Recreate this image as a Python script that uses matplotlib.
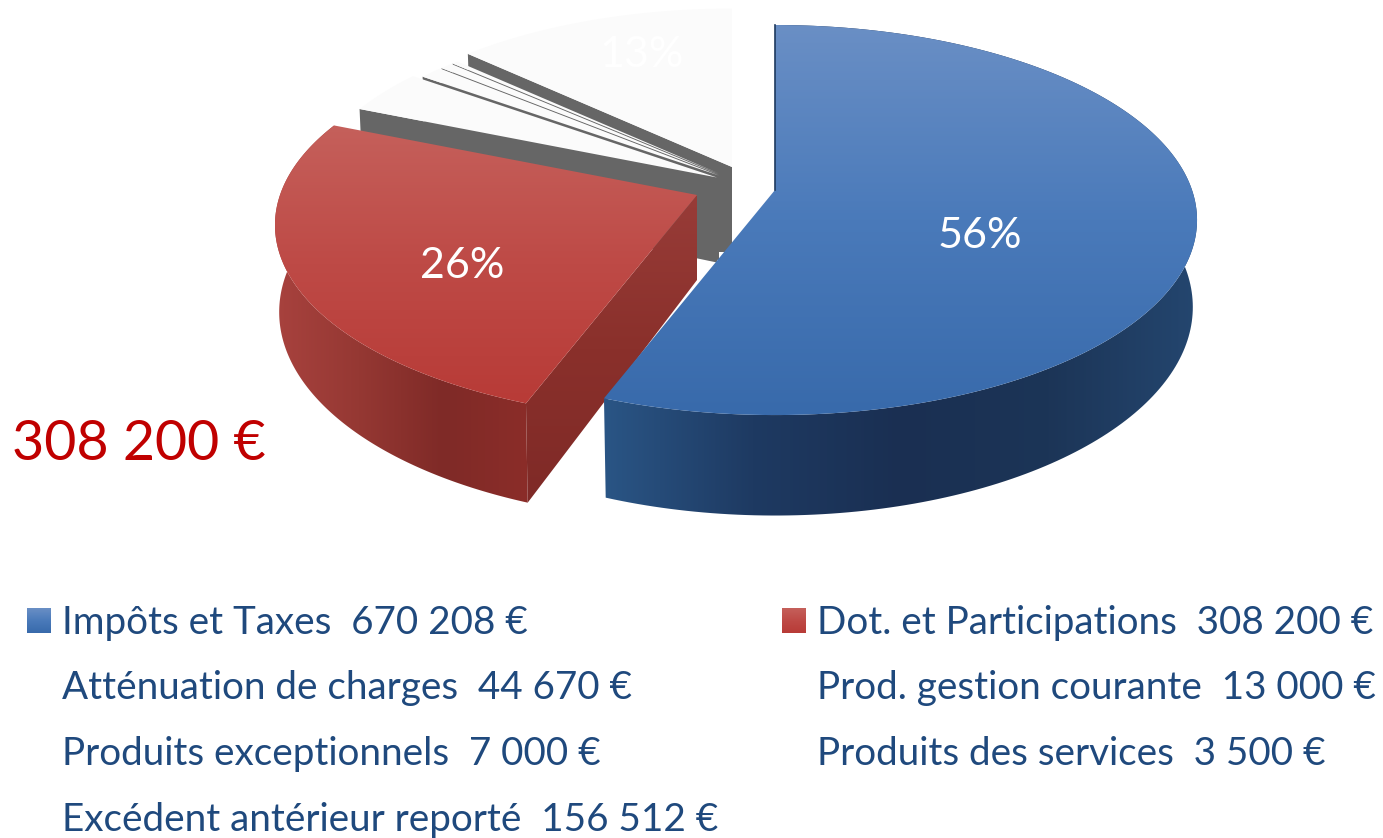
"""Recettes de fonctionnement: camembert 3D eclate avec legende."""
import matplotlib

matplotlib.use("Agg")
import matplotlib.pyplot as plt
import numpy as np
from matplotlib.colors import LinearSegmentedColormap
from matplotlib.patches import Polygon

NOMS = ["Impôts et Taxes", "Dot. et Participations", "Atténuation de charges",
        "Prod. gestion courante", "Produits exceptionnels",
        "Produits des services", "Excédent antérieur reporté"]
VALEURS = [670208, 308200, 44670, 13000, 7000, 3500, 156512]
POURCENTS = ["56%", "26%", None, None, None, None, "13%"]

W, H = 1383, 838
PERSP = 0.154
RX, RY = 417, 190.4
PROF = 85
N_ARC = 200

# sommet de chaque part une fois eclatee (pixels) et rayon relatif
SOMMETS = [(775, 190), (697, 195), (717, 177.5), (719, 175.5), (719, 174.5),
           (719, 173.5), (732, 167)]
ECHELLES = [1, 1, 0.985, 0.96, 0.955, 0.95, 0.96]
BLANC = "#fbfbfb"
GRIS = "#666666"
BLEU_HAUT = ["#6a8fc5", "#4a7aba", "#386aab"]
ROUGE_HAUT = ["#c5605b", "#be4a46", "#b83b37"]
BLEU_COTE = ["#2a5585", "#1e3a62", "#1a2f52", "#1c3557", "#24466f"]
ROUGE_COTE = ["#a8423e", "#953833", "#7f2a27", "#8b2d29"]
ROUGE_RADIAL = ["#7f2a27", "#8a302b", "#983c38"]

plt.rcParams["font.family"] = ["Lato", "DejaVu Sans"]

fig = plt.figure(figsize=(W / 100, H / 100), dpi=100)
ax = fig.add_axes([0, 0, 1, 1])


def projeter(angles, sommet, echelle):
    """Angle (degres, sens horaire depuis midi) vers pixels, en perspective."""
    u, v = np.sin(np.radians(angles)), np.cos(np.radians(angles))
    d = 1 + PERSP * v
    return (sommet[0] + echelle * RX * u / d, sommet[1] - echelle * RY * v / d,
            PROF / d)


def degrade(poly, couleurs, z, vertical=True):
    """Remplit un polygone avec un degrade via imshow + clip."""
    pts = np.asarray(poly)
    x0, x1 = pts[:, 0].min(), pts[:, 0].max()
    y0, y1 = pts[:, 1].min(), pts[:, 1].max()
    cmap = LinearSegmentedColormap.from_list("d", couleurs)
    g = np.linspace(0, 1, 256)
    g = g[:, None] if vertical else g[None, :]
    im = ax.imshow(g, cmap=cmap, extent=(x0, x1, y1, y0), aspect="auto",
                   origin="upper", zorder=z, interpolation="bilinear")
    patch = Polygon(pts, closed=True, transform=ax.transData, fc="none", ec="none")
    ax.add_patch(patch)
    im.set_clip_path(patch)


def part(i):
    a = np.linspace(bornes[i], bornes[i + 1], N_ARC)
    sommet = SOMMETS[i]
    x, y, p = projeter(a, sommet, ECHELLES[i])
    haut = np.column_stack([x, y])
    bas = np.column_stack([sommet[0] + (x - sommet[0]) * 0.99, y + p])
    return haut, bas, np.array(sommet, dtype=float), np.array([sommet[0], sommet[1] + PROF])


bornes = np.cumsum([0] + VALEURS) / sum(VALEURS) * 360

# parts blanches du fond: de l'excedent vers l'attenuation
z = 1
for i in [6, 5, 4, 3, 2]:
    haut, bas, s, s_bas = part(i)
    mur = np.vstack([s, haut[0], bas[0], s_bas])
    ax.add_patch(Polygon(mur, fc=GRIS, ec="none", zorder=z))
    if i == 6:
        mur_d = np.vstack([s, s_bas, [s[0] - 40, s_bas[1]], [s[0] - 40, s[1]]])
        ax.add_patch(Polygon(mur_d, fc=GRIS, ec="none", zorder=z))
    ax.add_patch(Polygon(np.vstack([s, haut]), fc=BLANC, ec="none", zorder=z + 0.5))
    z += 1

# part rouge
haut, bas, s, s_bas = part(1)
degrade(np.vstack([haut, bas[::-1]]), ROUGE_COTE, 10, vertical=False)
degrade(np.vstack([s, haut[0], bas[0], s_bas]), ROUGE_RADIAL[::-1], 11)
degrade(np.vstack([s, haut]), ROUGE_HAUT, 12)

# part bleue
haut, bas, s, s_bas = part(0)
degrade(np.vstack([haut, bas[::-1]]), BLEU_COTE, 20, vertical=False)
degrade(np.vstack([s, haut]), BLEU_HAUT, 21)
ax.plot([haut[0, 0], s[0]], [haut[0, 1], s[1]], color="#1e3a5f", lw=1.2, zorder=22)

# pourcentages sur les parts
ax.text(980, 236, POURCENTS[0], color="white", fontsize=31, ha="center", va="center", zorder=30)
ax.text(462, 266, POURCENTS[1], color="white", fontsize=31, ha="center", va="center", zorder=30)
ax.text(642, 55, POURCENTS[6], color="white", fontsize=31, ha="center", va="center", zorder=30)

ax.text(12, 444, "308 200 €", color="#c00000", fontsize=40, ha="left", va="center", zorder=30)


def ligne(nom, valeur):
    return f"{nom}  {valeur:,} €".replace(",", " ")


# legende sur deux colonnes
COL_G, COL_D = 62, 817
RANGS = [623, 688, 754, 820]
for i, (x, y) in zip([0, 2, 4, 6, 1, 3, 5],
                     [(COL_G, r) for r in RANGS] + [(COL_D, r) for r in RANGS[:3]]):
    ax.text(x, y, ligne(NOMS[i], VALEURS[i]), color="#1f497d", fontsize=27.8,
            ha="left", va="center", zorder=30)

degrade([(27, 608), (51, 608), (51, 633), (27, 633)], BLEU_HAUT, 30)
degrade([(782, 608), (806, 608), (806, 633), (782, 633)], ROUGE_HAUT, 30)

ax.set_xlim(0, W)
ax.set_ylim(H, 0)
ax.axis("off")
fig.savefig("out.png", dpi=100, facecolor="white")
